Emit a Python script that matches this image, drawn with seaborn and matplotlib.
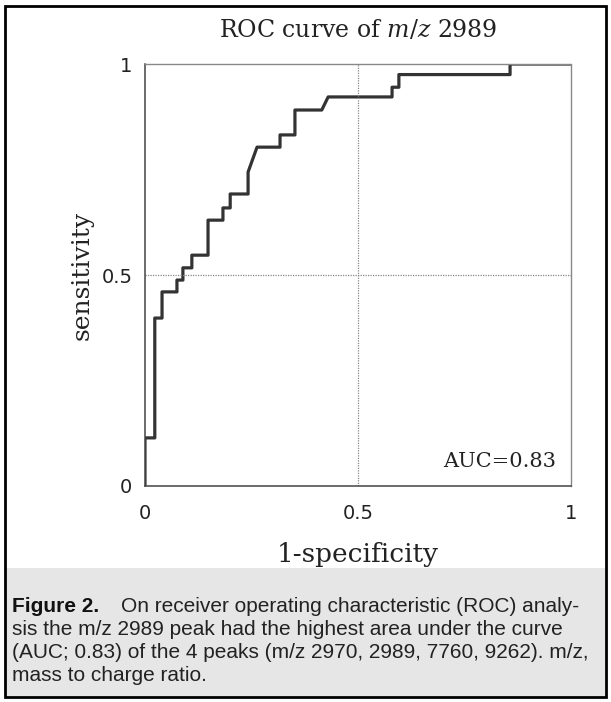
import matplotlib
matplotlib.use("Agg")
import matplotlib.pyplot as plt
import seaborn as sns
from matplotlib.patches import Rectangle

# ROC curve vertices (1-specificity, sensitivity)
fpr = [0, 0, 0.023, 0.023, 0.040, 0.040, 0.075, 0.075, 0.089, 0.089, 0.110, 0.110,
       0.148, 0.148, 0.183, 0.183, 0.200, 0.200, 0.242, 0.242, 0.263, 0.317, 0.317,
       0.352, 0.352, 0.415, 0.430, 0.580, 0.580, 0.596, 0.596, 0.857, 0.857, 1.0]
tpr = [0, 0.114, 0.114, 0.398, 0.398, 0.460, 0.460, 0.488, 0.488, 0.517, 0.517, 0.547,
       0.547, 0.630, 0.630, 0.659, 0.659, 0.692, 0.692, 0.744, 0.803, 0.803, 0.832,
       0.832, 0.891, 0.891, 0.922, 0.922, 0.945, 0.945, 0.975, 0.975, 1.0, 1.0]
ticks = [0, 0.5, 1]
tick_labels = ["0", "0.5", "1"]
auc_text = "AUC=0.83"
caption_head = "Figure 2."
caption_lines = [
    "On receiver operating characteristic (ROC) analy-",
    "sis the m/z 2989 peak had the highest area under the curve",
    "(AUC; 0.83) of the 4 peaks (m/z 2970, 2989, 7760, 9262). m/z,",
    "mass to charge ratio.",
]

sns.set_style("white")
plt.rcParams["font.family"] = ["DejaVu Serif"]
plt.rcParams["mathtext.fontset"] = "dejavuserif"

fig = plt.figure(figsize=(6.11, 7.02), dpi=100)
ax = fig.add_axes([0.2373, 0.3077, 0.6972, 0.6011])

sns.lineplot(x=fpr, y=tpr, sort=False, estimator=None, color="#333333",
             linewidth=2.3, ax=ax)

ax.set_xlim(0, 1)
ax.set_ylim(0, 1)
ax.set_xticks(ticks)
ax.set_yticks(ticks)
ax.set_xticklabels(tick_labels, family="DejaVu Sans", fontsize=14)
ax.set_yticklabels(tick_labels, family="DejaVu Sans", fontsize=14)
ax.tick_params(direction="inout", length=6, width=1, color="#555555",
               labelcolor="#222222")
ax.tick_params(axis="x", pad=10)
ax.tick_params(axis="y", pad=6)
ax.axhline(0.5, color="#888888", lw=0.9, ls=(0, (1, 1)))
ax.axvline(0.5, color="#888888", lw=0.9, ls=(0, (1, 1)))
for side in ["left", "bottom"]:
    ax.spines[side].set_color("#444444")
    ax.spines[side].set_linewidth(1.1)
for side in ["top", "right"]:
    ax.spines[side].set_color("#888888")
    ax.spines[side].set_linewidth(1.0)
    ax.spines[side].set_linestyle((0, (1, 1)))

ax.text(0.5, 1.081, r"ROC curve of $\it{m/z}$ 2989", transform=ax.transAxes,
        ha="center", va="center", fontsize=17, color="#222222")
ax.set_xlabel("1-specificity", fontsize=19, va="center", color="#222222")
ax.xaxis.set_label_coords(0.5, -0.1635)
ax.set_ylabel("sensitivity", fontsize=18, va="center", color="#222222")
ax.yaxis.set_label_coords(-0.148, 0.5)
ax.text(0.965, 0.057, auc_text, transform=ax.transAxes, ha="right", va="center",
        fontsize=15, color="#222222")

# outer frame and caption box
fig.patches.append(Rectangle((0.008, 0.007), 0.984, 0.985, transform=fig.transFigure,
                             fill=False, edgecolor="black", lw=2))
fig.patches.append(Rectangle((0.009, 0.008), 0.982, 0.183, transform=fig.transFigure,
                             facecolor="#e6e6e6", edgecolor="none", zorder=-1))

sans = ["Liberation Sans", "DejaVu Sans"]
y0 = 0.128
step = 0.0325
head = fig.text(0.02, y0, caption_head, family=sans, fontweight="bold", fontsize=15,
                va="baseline", color="#111111")
fig.canvas.draw()
bb = head.get_window_extent().transformed(fig.transFigure.inverted())
fig.text(bb.x1 + 0.035, y0, caption_lines[0], family=sans, fontsize=15,
         va="baseline", color="#222222")
for i, line in enumerate(caption_lines[1:], start=1):
    fig.text(0.02, y0 - i * step, line, family=sans, fontsize=15, va="baseline",
             color="#222222")

fig.savefig("out.png", dpi=100)
